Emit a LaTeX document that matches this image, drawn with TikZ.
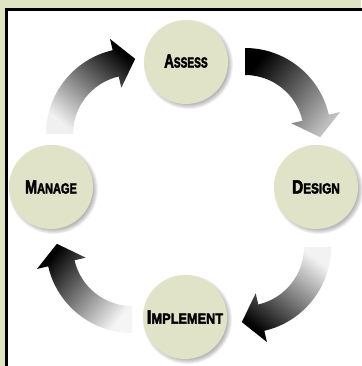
\documentclass[tikz,border=0pt]{standalone}
\usepackage{fontspec}
\usepackage{graphicx}
\usetikzlibrary{calc}
\newfontfamily\labelfont{Liberation Sans}[FakeBold=3]
\definecolor{bandgreen}{RGB}{223,229,196}
\definecolor{stagefill}{RGB}{224,227,199}
\newcommand\stagelabel[3]{\scalebox{#1}[1]{\labelfont\bfseries{\fontsize{19pt}{19pt}\selectfont #2}{\fontsize{14.5pt}{14.5pt}\selectfont #3}}}
\newcommand\cyclearrow[4]{%
  \shade[#4] ($(#1)+(#2:86pt)$) arc[start angle=#2, end angle=#3, radius=86pt]
    -- ($(#1)+(#3:97.5pt)$)
    -- ($(#1)+(#3:72.5pt)+({#3-90}:20pt)$)
    -- ($(#1)+(#3:47.5pt)$)
    -- ($(#1)+(#3:59pt)$) arc[start angle=#3, end angle=#2, radius=59pt]
    -- cycle;}
\begin{document}
\begin{tikzpicture}[x=1pt,y=1pt,
  stage/.style={circle, fill=stagefill, minimum size=84pt, inner sep=0pt},
  shadowdisc/.style={fill=black, opacity=0.05}]
\useasboundingbox (0,0) rectangle (361,366);
\fill[bandgreen] (0,0) rectangle (361,366);
\fill[black] (5,-5) rectangle (366,358);
\fill[white] (8,-5) rectangle (366,355);
% arc centres of the arrows
\coordinate (tlc) at (132,232);
\coordinate (trc) at (245,232);
\coordinate (brc) at (245,119);
\coordinate (blc) at (132,119);
% circle centres
\coordinate (pA) at (186,304);
\coordinate (pD) at (316,179);
\coordinate (pI) at (185,49);
\coordinate (pM) at (51,179);
% arrows
\cyclearrow{tlc}{180}{103}{top color=black, middle color=black!55, bottom color=white!94!black, shading angle=-40}
\cyclearrow{trc}{90}{13}{top color=black, middle color=black!50, bottom color=white!75!black, shading angle=52}
\cyclearrow{brc}{0}{-77}{top color=black, middle color=black!50, bottom color=white!95!black, shading angle=142}
\cyclearrow{blc}{-90}{-167}{top color=black, middle color=black!50, bottom color=white!96!black, shading angle=51}
% shadows
\foreach \p in {pA,pD,pI,pM}{
  \foreach \k in {0,...,5}{
    \fill[shadowdisc] ($(\p)+(2.5,-2.5)$) circle ({40+\k*0.9});
  }
}
% stages
\node[stage] (assess) at (pA) {\raisebox{2pt}{\stagelabel{0.70}{A}{SSESS}}};
\node[stage] (design) at (pD) {\stagelabel{0.81}{D}{ESIGN}};
\node[stage] (implement) at (pI) {\stagelabel{0.88}{I}{MPLEMENT}};
\node[stage] (manage) at (pM) {\stagelabel{0.76}{M}{ANAGE}};
\end{tikzpicture}
\end{document}
